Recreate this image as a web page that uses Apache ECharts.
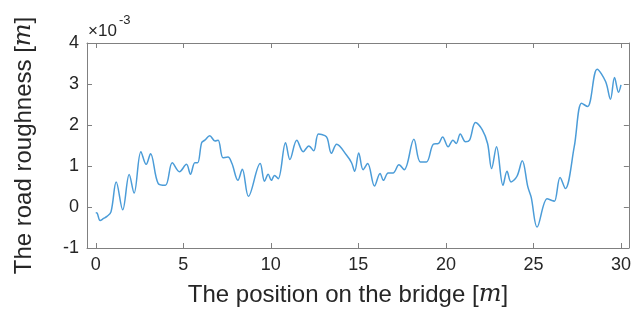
<!DOCTYPE html>
<html>
<head>
<meta charset="utf-8">
<script src="https://cdn.jsdelivr.net/npm/echarts@6/dist/echarts.min.js"></script>
<style>
html,body{margin:0;padding:0;background:#fff;}
#chart{width:634px;height:313px;}
</style>
</head>
<body>
<div id="chart"></div>
<script>
// position along the bridge [m]
var pos = [0.00,0.08,0.25,0.45,0.64,0.87,1.17,1.54,1.91,2.19,2.58,2.88,3.13,3.57,3.98,4.37,4.78,5.18,5.41,5.66,5.82,6.05,6.23,6.51,6.81,6.99,7.27,7.55,7.78,8.12,8.37,8.72,9.39,9.64,9.85,10.03,10.21,10.42,10.84,11.09,11.48,11.85,12.17,12.45,12.72,13.09,13.23,13.46,13.76,14.33,14.61,14.79,15.02,15.27,15.53,15.92,16.24,16.43,16.70,16.98,17.32,17.62,18.17,18.54,18.89,19.28,19.58,19.81,20.13,20.40,20.59,20.82,21.12,21.35,21.69,22.08,22.38,22.61,22.89,23.26,23.49,23.72,24.06,24.36,24.68,24.87,25.21,25.78,26.06,26.20,26.52,26.82,27.33,27.75,28.09,28.64,29.12,29.40,29.63,29.86,30.00];
// road roughness, x 1e-3 m
var rough = [-0.14,-0.15,-0.33,-0.28,-0.23,-0.12,0.61,-0.07,0.79,0.34,1.35,1.04,1.30,0.57,0.53,1.08,0.86,1.04,0.80,1.08,1.08,1.57,1.63,1.74,1.61,1.63,1.20,1.22,1.06,0.65,0.92,0.26,1.06,0.63,0.80,0.65,0.77,0.69,1.57,1.16,1.63,1.35,1.49,1.37,1.78,1.74,1.67,1.31,1.53,1.26,1.08,0.87,1.32,0.91,1.06,0.51,0.82,0.65,0.83,0.83,1.03,0.91,1.65,1.10,1.10,1.53,1.55,1.71,1.47,1.63,1.55,1.78,1.59,1.63,2.06,1.88,1.55,0.94,1.47,0.53,0.87,0.61,0.75,1.13,0.49,0.24,-0.49,0.20,0.16,0.14,0.72,0.45,1.47,2.53,2.45,3.36,3.06,2.63,3.16,2.80,2.98];
var xTicks = [0,5,10,15,20,25,30];

var axisGray = '#808080';
var txt = '#262626';

var dom = document.getElementById('chart');
var myChart = echarts.init(dom);

var line = [];
for (var i = 0; i < pos.length; i++) line.push([pos[i], rough[i]]);

var option = {
	animation: false,
	grid: {left: 87, right: 4, top: 43, bottom: 65},
	graphic: [
		{type: 'text', left: 88, top: 23, style: {text: '×10', fontSize: 17, fontFamily: 'Liberation Sans', fill: txt}},
		{type: 'text', left: 119, top: 14, style: {text: '-3', fontSize: 13, fontFamily: 'Liberation Sans', fill: txt}}
	],
	xAxis: [
		{
			type: 'value', min: -0.5, max: 30.45, position: 'bottom',
			axisLine: {show: true, onZero: false, lineStyle: {color: axisGray, width: 1}},
			axisTick: {show: true, inside: true, length: 5, customValues: xTicks, lineStyle: {color: axisGray}},
			axisLabel: {customValues: xTicks, fontSize: 18, color: txt, margin: 8, fontFamily: 'Liberation Sans'},
			splitLine: {show: false},
			name: 'The position on the bridge [{m|m}]',
			nameLocation: 'middle', nameGap: 35,
			nameTextStyle: {fontSize: 24, color: txt, fontFamily: 'Liberation Sans', padding: [0, 20, 0, 0],
				rich: {m: {fontSize: 24, fontStyle: 'italic', fontFamily: 'DejaVu Serif', color: txt}}}
		},
		{
			type: 'value', min: -0.5, max: 30.45, position: 'top',
			axisLine: {show: true, onZero: false, lineStyle: {color: axisGray, width: 1}},
			axisTick: {show: true, inside: true, length: 5, customValues: xTicks, lineStyle: {color: axisGray}},
			axisLabel: {show: false},
			splitLine: {show: false}
		}
	],
	yAxis: [
		{
			type: 'value', min: -1, max: 4, interval: 1, position: 'left',
			axisLine: {show: true, onZero: false, lineStyle: {color: axisGray, width: 1}},
			axisTick: {show: true, inside: true, length: 5, lineStyle: {color: axisGray}},
			axisLabel: {fontSize: 18, color: txt, margin: 8, fontFamily: 'Liberation Sans'},
			splitLine: {show: false},
			name: 'The road roughness [{m|m}]',
			nameLocation: 'middle', nameGap: 51,
			nameTextStyle: {fontSize: 24, color: txt, fontFamily: 'Liberation Sans',
				rich: {m: {fontSize: 24, fontStyle: 'italic', fontFamily: 'DejaVu Serif', color: txt}}}
		},
		{
			type: 'value', min: -1, max: 4, interval: 1, position: 'right',
			axisLine: {show: true, onZero: false, lineStyle: {color: axisGray, width: 1}},
			axisTick: {show: true, inside: true, length: 5, lineStyle: {color: axisGray}},
			axisLabel: {show: false},
			splitLine: {show: false}
		}
	],
	series: [
		{
			type: 'line', xAxisIndex: 0, yAxisIndex: 0,
			data: line, smooth: 0.35, symbol: 'none',
			lineStyle: {color: '#4b9cd8', width: 1.5}
		}
	]
};
myChart.setOption(option, true);
</script>
</body>
</html>
